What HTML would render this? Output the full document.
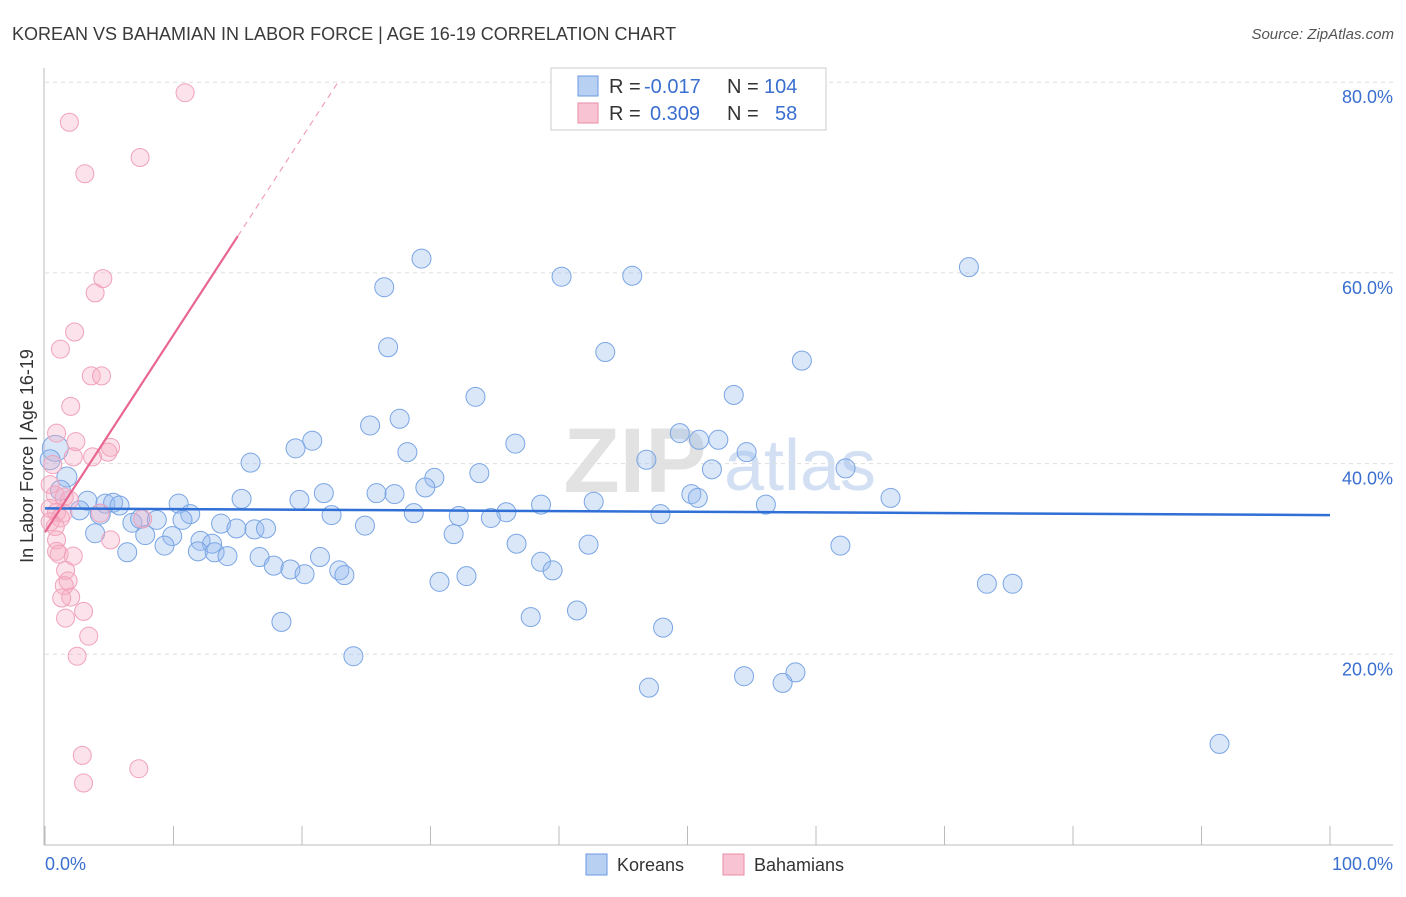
<!DOCTYPE html>
<html><head><meta charset="utf-8"><style>
body{margin:0;background:#fff;font-family:"Liberation Sans",sans-serif}
svg text{font-family:"Liberation Sans",sans-serif}
</style></head><body>
<svg id="c" width="1406" height="892">
<text x="12" y="40" font-size="18" fill="#3a3a3a">KOREAN VS BAHAMIAN IN LABOR FORCE | AGE 16-19 CORRELATION CHART</text>
<text x="1394" y="39" font-size="15" fill="#555" font-style="italic" text-anchor="end">Source: ZipAtlas.com</text>
<g><text x="635" y="492" font-size="92" fill="#e2e2e2" font-family="Liberation Serif" text-anchor="middle" font-weight="bold">ZIP</text><text x="800" y="490" font-size="72" fill="#d3e0f3" text-anchor="middle">atlas</text></g>
<g id="grid"></g><g id="axes"></g><g id="marks"></g>
<text x="33" y="456" font-size="18" fill="#333" text-anchor="middle" transform="rotate(-90 33 456)">In Labor Force | Age 16-19</text>
<text x="45" y="870" font-size="18" fill="#3a6fd0">0.0%</text>
<text x="1393" y="870" font-size="18" fill="#3a6fd0" text-anchor="end">100.0%</text>
<g>
<rect x="551" y="68" width="275" height="62" fill="#fff" stroke="#ccc"/>
<rect x="578" y="76" width="20" height="20" fill="#b8d0f2" stroke="#6a9ae0"/>
<rect x="578" y="103" width="20" height="20" fill="#f8c4d3" stroke="#ea8eaa"/>
<text x="609" y="93" font-size="20" fill="#333">R =</text>
<text x="644" y="93" font-size="20" fill="#3a6fd0">-0.017</text>
<text x="727" y="93" font-size="20" fill="#333">N =</text>
<text x="764" y="93" font-size="20" fill="#3a6fd0">104</text>
<text x="609" y="120" font-size="20" fill="#333">R =</text>
<text x="650" y="120" font-size="20" fill="#3a6fd0">0.309</text>
<text x="727" y="120" font-size="20" fill="#333">N =</text>
<text x="775" y="120" font-size="20" fill="#3a6fd0">58</text>
</g>
<g>
<rect x="586" y="854" width="21" height="21" fill="#b8d0f2" stroke="#6a9ae0"/>
<text x="617" y="871" font-size="18" fill="#333">Koreans</text>
<rect x="723" y="854" width="21" height="21" fill="#f8c4d3" stroke="#ea8eaa"/>
<text x="754" y="871" font-size="18" fill="#333">Bahamians</text>
</g>
</svg>
<script>
const yTicks=[20,40,60,80];
const koreanX=[29.3,40.2,45.7,71.9,26.4,26.7,43.6,58.9,33.5,53.6,27.6,25.3,49.4,20.8,19.5,36.6,50.9,52.4,28.2,54.6,46.8,16.0,62.3,51.9,30.3,33.8,29.6,21.7,25.8,27.2,50.3,50.8,65.8,15.3,19.8,10.4,42.7,38.6,56.1,3.3,4.7,5.3,5.8,2.7,11.3,22.3,28.7,35.9,32.2,34.7,47.9,6.8,7.4,8.7,10.7,13.7,14.9,16.3,17.2,24.9,3.9,7.8,9.9,12.1,13.0,31.8,36.7,42.3,61.9,6.4,9.3,11.9,13.2,14.2,16.7,21.4,17.8,19.1,20.2,22.9,23.3,38.6,39.5,30.7,32.8,73.3,75.3,41.4,37.8,18.4,48.1,24.0,47.0,54.4,58.4,57.4,91.4,0.8,1.7,1.2,0.4,4.3];
const koreanY=[61.5,59.6,59.7,60.6,58.5,52.2,51.7,50.8,47.0,47.2,44.7,44.0,43.2,42.4,41.6,42.1,42.5,42.5,41.2,41.2,40.4,40.1,39.5,39.4,38.5,39.0,37.5,36.9,36.9,36.8,36.8,36.4,36.4,36.3,36.2,35.8,36.0,35.7,35.7,36.1,35.8,35.9,35.6,35.1,34.7,34.6,34.8,34.9,34.5,34.3,34.7,33.8,34.2,34.1,34.1,33.7,33.2,33.1,33.2,33.5,32.7,32.5,32.4,31.9,31.6,32.6,31.6,31.5,31.4,30.7,31.4,30.8,30.7,30.3,30.2,30.2,29.3,28.9,28.4,28.8,28.3,29.7,28.8,27.6,28.2,27.4,27.4,24.6,23.9,23.4,22.8,19.8,16.5,17.7,18.1,17.0,10.6,41.6,38.6,37.2,40.4,34.7];
const bahamianX=[10.9,1.9,7.4,3.1,4.5,3.9,2.3,1.2,3.6,4.4,2.0,0.9,2.4,5.1,4.9,3.7,2.2,0.6,0.4,0.8,1.5,1.9,0.4,0.9,1.4,1.2,0.4,0.8,4.3,7.6,5.1,0.9,0.9,1.1,2.2,1.6,1.8,1.5,2.0,1.3,3.0,1.6,3.4,2.5,2.9,3.0,7.3];
const bahamianY=[78.9,75.8,72.1,70.4,59.4,57.9,53.8,52.0,49.2,49.2,46.0,43.2,42.3,41.7,41.2,40.7,40.7,39.9,37.8,36.7,36.5,36.2,35.3,34.9,34.8,34.3,33.9,33.4,34.8,34.2,32.0,32.0,30.8,30.5,30.3,28.8,27.7,27.2,26.0,25.9,24.5,23.8,21.9,19.8,9.4,6.5,8.0];
const koreanTrend=[35.3,34.6];
const bahamianTrend=[32.8,2.07];
const X=v=>45+v*12.85, Y=v=>845-v*9.535;
const NS="http://www.w3.org/2000/svg";
function mk(t,a,p){const e=document.createElementNS(NS,t);for(const k in a)e.setAttribute(k,a[k]);p.appendChild(e);return e;}
const grid=document.getElementById('grid'),axes=document.getElementById('axes'),marks=document.getElementById('marks');
yTicks.forEach(t=>{const l=mk('line',{x1:45,x2:1393,y1:Y(t),y2:Y(t),stroke:'#ddd','stroke-dasharray':'4,4'},grid);


const tx=mk('text',{x:1393,y:Y(t)+21,'font-size':18,fill:'#3a6fd0','text-anchor':'end'},grid);tx.textContent=t.toFixed(1)+'%';

});
mk('line',{x1:44,x2:44,y1:68,y2:845,stroke:'#bbb'},axes);
mk('line',{x1:44,x2:1393,y1:845,y2:845,stroke:'#bbb'},axes);
for(let i=0;i<=10;i++){const t=mk('line',{x1:X(i*10),x2:X(i*10),y1:826,y2:845,stroke:'#bbb'},axes);

}
koreanX.forEach((x,i)=>{const c=mk('circle',{cx:X(x),cy:Y(koreanY[i]),r:i>=97?(i==97?13:10):9.5,fill:'rgba(150,185,238,0.35)',stroke:'#7aa5e4','stroke-width':1},marks);

});
bahamianX.forEach((x,i)=>{const c=mk('circle',{cx:X(x),cy:Y(bahamianY[i]),r:9,fill:'rgba(246,172,195,0.35)',stroke:'#f0a2bb','stroke-width':1},marks);

});
const kt=mk('line',{x1:X(0),y1:Y(koreanTrend[0]),x2:X(100),y2:Y(koreanTrend[1]),stroke:'#2f6fd6','stroke-width':2.5},marks);


const bt=mk('line',{x1:X(0),y1:Y(bahamianTrend[0]),x2:X(15),y2:Y(bahamianTrend[0]+15*bahamianTrend[1]),stroke:'#e8668f','stroke-width':2.2},marks);


const bd=mk('line',{x1:X(15),y1:Y(bahamianTrend[0]+15*bahamianTrend[1]),x2:X(22.8),y2:Y(bahamianTrend[0]+22.8*bahamianTrend[1]),stroke:'#f0a0b8','stroke-width':1.2,'stroke-dasharray':'6,5'},marks);


</script>
</body></html>
